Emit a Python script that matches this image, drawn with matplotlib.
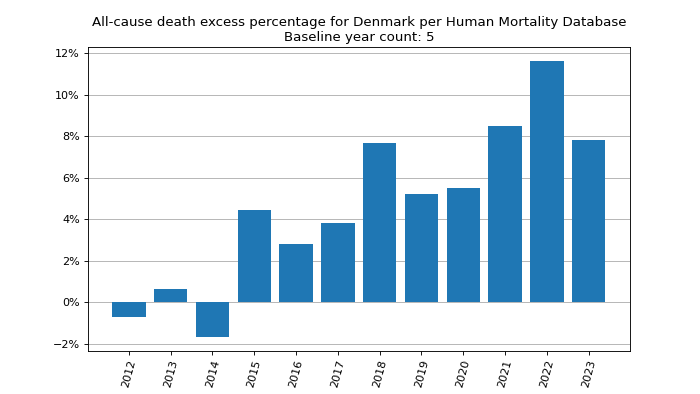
import matplotlib
matplotlib.use("Agg")
import matplotlib.pyplot as plt
from matplotlib.ticker import PercentFormatter

years = [2012, 2013, 2014, 2015, 2016, 2017, 2018, 2019, 2020, 2021, 2022, 2023]
excess_pct = [-0.71, 0.66, -1.66, 4.47, 2.81, 3.83, 7.68, 5.21, 5.51, 8.47, 11.62, 7.83]

fig, ax = plt.subplots(figsize=(8.75, 4.925), dpi=80)
ax.bar([str(y) for y in years], excess_pct, color="#1f77b4")
ax.set_axisbelow(True)
ax.grid(axis="y", color="#b0b0b0")
ax.yaxis.set_major_formatter(PercentFormatter(decimals=0))
ax.set_yticks(range(-2, 13, 2))
plt.xticks(rotation=75)
ax.set_title("All-cause death excess percentage for Denmark per Human Mortality Database\nBaseline year count: 5")
fig.savefig("out.png")
